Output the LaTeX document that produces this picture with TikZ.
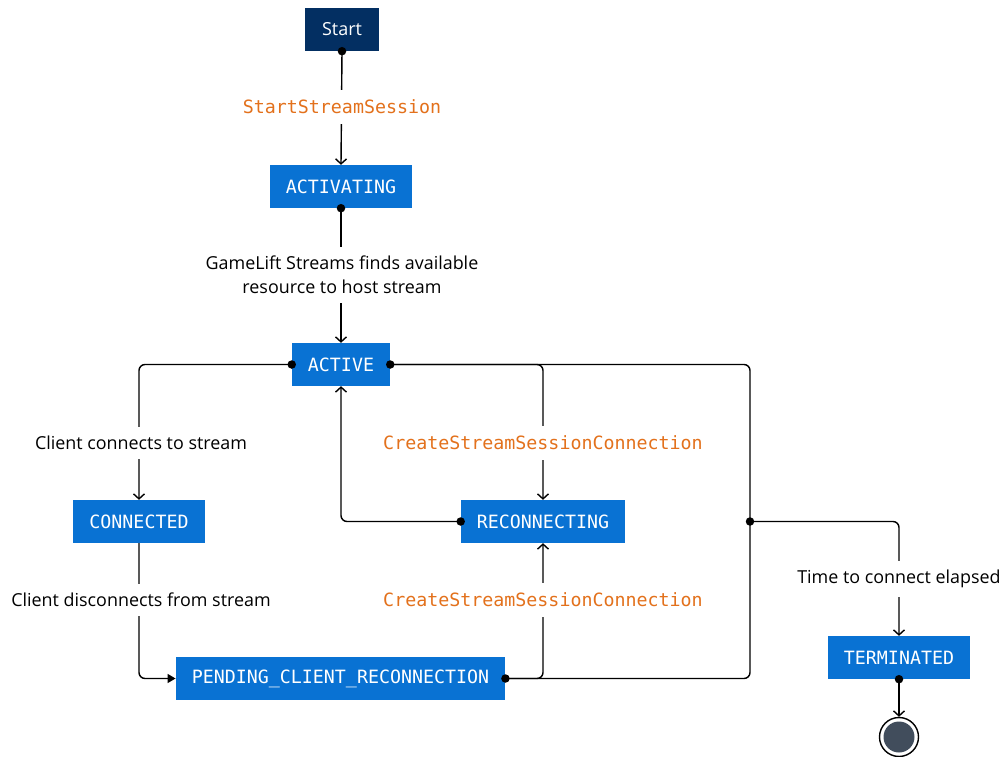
\documentclass[tikz,border=0pt]{standalone}
\usepackage{fontspec}
\setmainfont{Open Sans}
\newfontfamily\statemono{DejaVu Sans Mono}
\usetikzlibrary{arrows.meta}
\definecolor{awsblue}{HTML}{0972D3}
\definecolor{awsnavy}{HTML}{032F62}
\definecolor{awsorange}{HTML}{E3711C}
\definecolor{endgray}{HTML}{414D5C}
\tikzset{
  state/.style={fill=awsblue, text=white, font=\statemono\fontsize{18.3}{22}\selectfont,
    minimum height=43pt, inner xsep=16pt, inner ysep=0pt},
  startbox/.style={fill=awsnavy, text=white, font=\fontsize{18}{22}\selectfont,
    minimum height=43pt, minimum width=74pt, inner sep=0pt},
  apilbl/.style={fill=white, text=awsorange, font=\statemono\fontsize{18.3}{22}\selectfont,
    inner xsep=2pt, inner ysep=10pt},
  txtlbl/.style={fill=white, text=black, font=\fontsize{17.9}{24}\selectfont,
    inner xsep=2pt, inner ysep=9pt, align=center},
  conn/.style={line width=1.4pt, rounded corners=6pt},
  arr/.style={conn, -{Straight Barb[length=5pt,width=11pt,line width=1.4pt]}},
  farr/.style={conn, -{Triangle[length=8pt,width=9pt]}},
  dot/.style={circle, fill=black, inner sep=0pt, minimum size=8.5pt}
}
\begin{document}
\begin{tikzpicture}[x=1pt,y=-1pt]
\useasboundingbox (0,0) rectangle (1005,757);
% nodes
\node[startbox] (start) at (342,29.5) {Start};
\node[state] (activating) at (341,186.5) {ACTIVATING};
\node[state] (active) at (341,364.5) {ACTIVE};
\node[state] (connected) at (139,521.5) {CONNECTED};
\node[state] (reconnecting) at (543,521.5) {RECONNECTING};
\node[state] (pending) at (340.5,678.5) {PENDING\_CLIENT\_RECONNECTION};
\node[state] (terminated) at (899,657.5) {TERMINATED};
\node[circle, draw=black, line width=1.4pt, fill=white, minimum size=39pt, inner sep=0pt] (endo) at (899,737) {};
\node[circle, fill=endgray, minimum size=31pt, inner sep=0pt] (endi) at (endo.center) {};
\coordinate (junc) at (750,521.5);
% connectors
\draw[arr] (start.south) -- (activating.north);
\draw[arr] (activating.south) -- (active.north);
\draw[arr] (active.west) -| (connected.north);
\draw[farr] (connected.south) |- (pending.west);
\draw[arr] (active.east) -| (reconnecting.north);
\draw[conn] (active.east) -| (junc);
\draw[arr] (junc) -| (terminated.north);
\draw[arr] (reconnecting.west) -| (active.south);
\draw[arr] (pending.east) -| (reconnecting.south);
\draw[conn] (pending.east) -| (junc);
\draw[arr] (terminated.south) -- (endo.north);
% dots
\node[dot] at (start.south) {};
\node[dot] at (activating.south) {};
\node[dot] at (active.west) {};
\node[dot] at (active.east) {};
\node[dot] at (reconnecting.west) {};
\node[dot] at (pending.east) {};
\node[dot] at (junc) {};
\node[dot] at (terminated.south) {};
% labels
\node[apilbl] (l1) at (342,107) {StartStreamSession};
\node[txtlbl] (l2) at (342,275) {GameLift Streams finds available\\resource to host stream};
\node[txtlbl] (l3) at (141,443) {Client connects to stream};
\node[apilbl] (l4) at (543,443) {CreateStreamSessionConnection};
\node[txtlbl] (l5) at (141,600) {Client disconnects from stream};
\node[apilbl] (l6) at (543,600) {CreateStreamSessionConnection};
\node[txtlbl] (l7) at (899,579) {Time to connect elapsed};
\end{tikzpicture}
\end{document}
